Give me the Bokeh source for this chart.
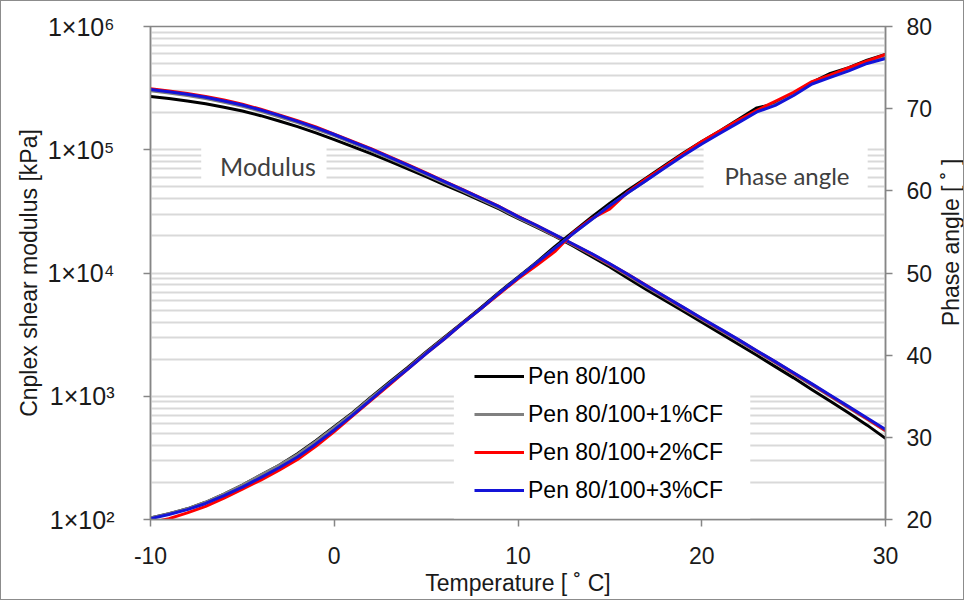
import math
from bokeh.plotting import figure
from bokeh.layouts import row
from bokeh.models import (Range1d, LinearAxis, LinearScale, FixedTicker, Legend, LegendItem,
                          Label, BoxAnnotation)
from bokeh.embed import file_html
from bokeh.resources import INLINE

# ---------------- data ----------------
temperature = list(range(-10, 31))

series_names = ["Pen 80/100", "Pen 80/100+1%CF", "Pen 80/100+2%CF", "Pen 80/100+3%CF"]
series_colors = ["#000000", "#808080", "#ff0000", "#1414d8"]

# complex shear modulus [kPa]
mod_pen = [270000, 261000, 249000, 236000, 221000, 206000, 189000, 171000, 154000, 137000,
           121000, 106000, 92900, 80700, 70000, 60400, 52000, 44800, 38400, 32900,
           27700, 23500, 19900, 16600, 13600, 11200, 9040, 7330, 5980, 4890,
           3990, 3250, 2640, 2150, 1740, 1410, 1130, 910, 730, 583, 455]
mod_1cf = [301000, 289000, 275000, 260000, 243000, 225000, 205000, 185000, 166000, 147000,
           130000, 113000, 98500, 85000, 73400, 62900, 53900, 46200, 39400, 33600,
           28100, 23900, 20100, 16900, 14100, 11600, 9500, 7700, 6290, 5140,
           4200, 3440, 2810, 2290, 1870, 1510, 1230, 995, 805, 650, 523]
mod_2cf = [313000, 300000, 286000, 271000, 253000, 234000, 213000, 192000, 172000, 153000,
           134000, 117000, 102000, 87800, 75700, 64800, 55500, 47500, 40500, 34500,
           28800, 24400, 20400, 17100, 14300, 11800, 9700, 7900, 6420, 5240,
           4280, 3500, 2870, 2330, 1900, 1540, 1250, 1010, 815, 658, 528]
mod_3cf = [308000, 296000, 282000, 267000, 249000, 231000, 210000, 190000, 170000, 151000,
           133000, 116000, 101000, 87100, 75200, 64400, 55200, 47300, 40300, 34400,
           28700, 24400, 20500, 17200, 14400, 11900, 9730, 7890, 6440, 5260,
           4300, 3520, 2880, 2340, 1910, 1550, 1260, 1020, 824, 667, 537]

# phase angle [deg]
ph_pen = [20.2, 20.7, 21.3, 22.1, 23.1, 24.2, 25.4, 26.6, 28.0, 29.6, 31.3,
          33.0, 34.9, 36.7, 38.5, 40.4, 42.2, 44.0, 45.8, 47.7, 49.5,
          51.3, 53.2, 55.0, 56.8, 58.5, 60.1, 61.6, 63.1, 64.6, 66.0,
          67.3, 68.7, 70.1, 70.6, 71.9, 73.2, 74.3, 75.0, 75.9, 76.6]
ph_1cf = [20.2, 20.7, 21.3, 22.1, 23.1, 24.2, 25.4, 26.6, 27.9, 29.5, 31.2,
          32.9, 34.8, 36.6, 38.4, 40.3, 42.1, 43.9, 45.7, 47.6, 49.4,
          51.2, 53.0, 54.8, 56.5, 58.2, 59.8, 61.3, 62.9, 64.4, 65.8,
          67.1, 68.4, 69.7, 70.5, 71.7, 73.1, 73.9, 74.7, 75.6, 76.2]
ph_2cf = [19.6, 20.1, 20.8, 21.6, 22.6, 23.7, 24.8, 26.0, 27.3, 28.9, 30.7,
          32.6, 34.5, 36.4, 38.3, 40.2, 42.0, 43.9, 45.7, 47.5, 49.3,
          50.9, 52.6, 54.9, 56.6, 57.8, 59.9, 61.5, 63.0, 64.5, 66.0,
          67.3, 68.6, 69.8, 70.9, 72.0, 73.3, 74.1, 75.0, 75.8, 76.6]
ph_3cf = [20.1, 20.6, 21.2, 21.95, 22.9, 23.95, 25.1, 26.3, 27.6, 29.2, 30.9,
          32.7, 34.6, 36.5, 38.3, 40.2, 42.0, 43.9, 45.7, 47.6, 49.4,
          51.2, 53.0, 54.8, 56.5, 58.2, 59.8, 61.3, 62.8, 64.3, 65.7,
          67.0, 68.3, 69.6, 70.4, 71.6, 73.0, 73.8, 74.6, 75.5, 76.1]

x_ticks = [-10, 0, 10, 20, 30]
x_tick_labels = ["-10", "0", "10", "20", "30"]
mod_ticks = [100, 1000, 10000, 100000, 1000000]
mod_tick_labels = ["1×10²", "1×10³", "1×10⁴", "1×10⁵", "1×10⁶"]
mod_minor_ticks = [m * 10 ** e for e in range(2, 6) for m in range(2, 10)]
phase_ticks = [20, 30, 40, 50, 60, 70, 80]

FONT = "Liberation Sans"
AXIS_GRAY = "#868686"
TXT = "#1a1a1a"

TOTAL_W, H = 962, 598
TITLE_W = 28

p = figure(width=TOTAL_W - TITLE_W, height=H, y_axis_type="log",
           x_range=Range1d(-10, 30), y_range=Range1d(100, 1000000),
           output_backend="svg", toolbar_location=None,
           min_border_left=149, min_border_top=25, min_border_right=46, min_border_bottom=80)
p.outline_line_color = AXIS_GRAY
p.outline_line_width = 1.5
p.background_fill_color = "white"
p.border_fill_color = "white"

p.extra_y_ranges = {"phase": Range1d(20, 80)}
p.extra_y_scales = {"phase": LinearScale()}

# grid
p.xgrid.grid_line_color = None
p.ygrid.grid_line_color = "#d9d9d9"
p.ygrid.grid_line_width = 2
p.ygrid.minor_grid_line_color = "#d9d9d9"
p.ygrid.minor_grid_line_width = 2

# axes
def style_axis(ax, size="23px"):
    ax.axis_line_color = AXIS_GRAY
    ax.axis_line_width = 1.5
    ax.major_tick_line_color = AXIS_GRAY
    ax.major_tick_line_width = 1.5
    ax.major_tick_in = 0
    ax.major_tick_out = 7
    ax.minor_tick_line_color = None
    ax.major_label_text_font = FONT
    ax.major_label_text_font_size = size
    ax.major_label_text_color = TXT
    ax.axis_label_text_font = FONT
    ax.axis_label_text_font_size = "23px"
    ax.axis_label_text_font_style = "normal"
    ax.axis_label_text_color = TXT

xa = p.xaxis[0]
style_axis(xa)
xa.ticker = FixedTicker(ticks=x_ticks)
xa.major_label_overrides = dict(zip(x_ticks, x_tick_labels))
xa.axis_label = "Temperature [ ˚ C]"
xa.major_label_standoff = 20
xa.axis_label_standoff = 3

ya = p.yaxis[0]
style_axis(ya, "25px")
ya.ticker = FixedTicker(ticks=mod_ticks, minor_ticks=mod_minor_ticks)
ya.major_label_overrides = dict(zip(mod_ticks, mod_tick_labels))
ya.axis_label = "Cnplex shear modulus [kPa]"
ya.major_label_standoff = 29
ya.axis_label_standoff = 2

ra = LinearAxis(y_range_name="phase", ticker=FixedTicker(ticks=phase_ticks))
style_axis(ra)
ra.major_label_standoff = 14
p.add_layout(ra, "right")

# white boxes behind labels / legend (over the grid, under the curves)
p.add_layout(BoxAnnotation(left=-7.24, right=-0.42, bottom=53200, top=112500,
                           fill_color="white", fill_alpha=1, line_alpha=0, level="underlay"))
p.add_layout(BoxAnnotation(left=20.1, right=29.03, bottom=44200, top=108000,
                           fill_color="white", fill_alpha=1, line_alpha=0, level="underlay"))
p.add_layout(BoxAnnotation(left=6.51, right=22.64, bottom=100, top=1900,
                           fill_color="white", fill_alpha=1, line_alpha=0, level="underlay"))

mods = [mod_pen, mod_1cf, mod_2cf, mod_3cf]
phases = [ph_pen, ph_1cf, ph_2cf, ph_3cf]
mod_renderers = []
for ys, c in zip(mods, series_colors):
    r = p.line(temperature, ys, line_color=c, line_width=3, line_join="round")
    mod_renderers.append(r)
for ys, c in zip(phases, series_colors):
    p.line(temperature, ys, line_color=c, line_width=3, line_join="round", y_range_name="phase")

p.add_layout(Label(x=-3.61, y=74000, text="Modulus", text_align="center", text_baseline="middle",
                   text_font="Lato", text_font_size="25px", text_color="#404040"))
p.add_layout(Label(x=24.64, y=61800, text="Phase angle", text_align="center", text_baseline="middle",
                   text_font="Lato", text_font_size="24px", text_color="#404040"))

legend = Legend(items=[LegendItem(label=n, renderers=[r]) for n, r in zip(series_names, mod_renderers)],
                location=(324, 15), padding=0, margin=0, spacing=10,
                glyph_width=50, glyph_height=28, label_height=28, label_standoff=4,
                label_text_font=FONT, label_text_font_size="23px", label_text_color="#000000",
                background_fill_alpha=0, border_line_alpha=0)
p.add_layout(legend)

# narrow strip on the right carrying the secondary axis title (reads bottom-to-top)
q = figure(width=TITLE_W, height=H, x_range=Range1d(0, 1), y_range=Range1d(0, 1),
           output_backend="svg", toolbar_location=None, min_border=0)
q.axis.visible = False
q.grid.visible = False
q.outline_line_color = None
q.background_fill_color = "white"
q.border_fill_color = "white"
q.add_layout(Label(x=0.55, y=0.562, text="Phase angle [ ˚ ]", angle=90, angle_units="deg",
                   text_align="center", text_baseline="middle",
                   text_font=FONT, text_font_size="23px", text_color=TXT))

lay = row(p, q)
lay.styles = {"border": "1px solid #8c8c8c"}

open("out.html", "w").write(file_html(lay, INLINE))
